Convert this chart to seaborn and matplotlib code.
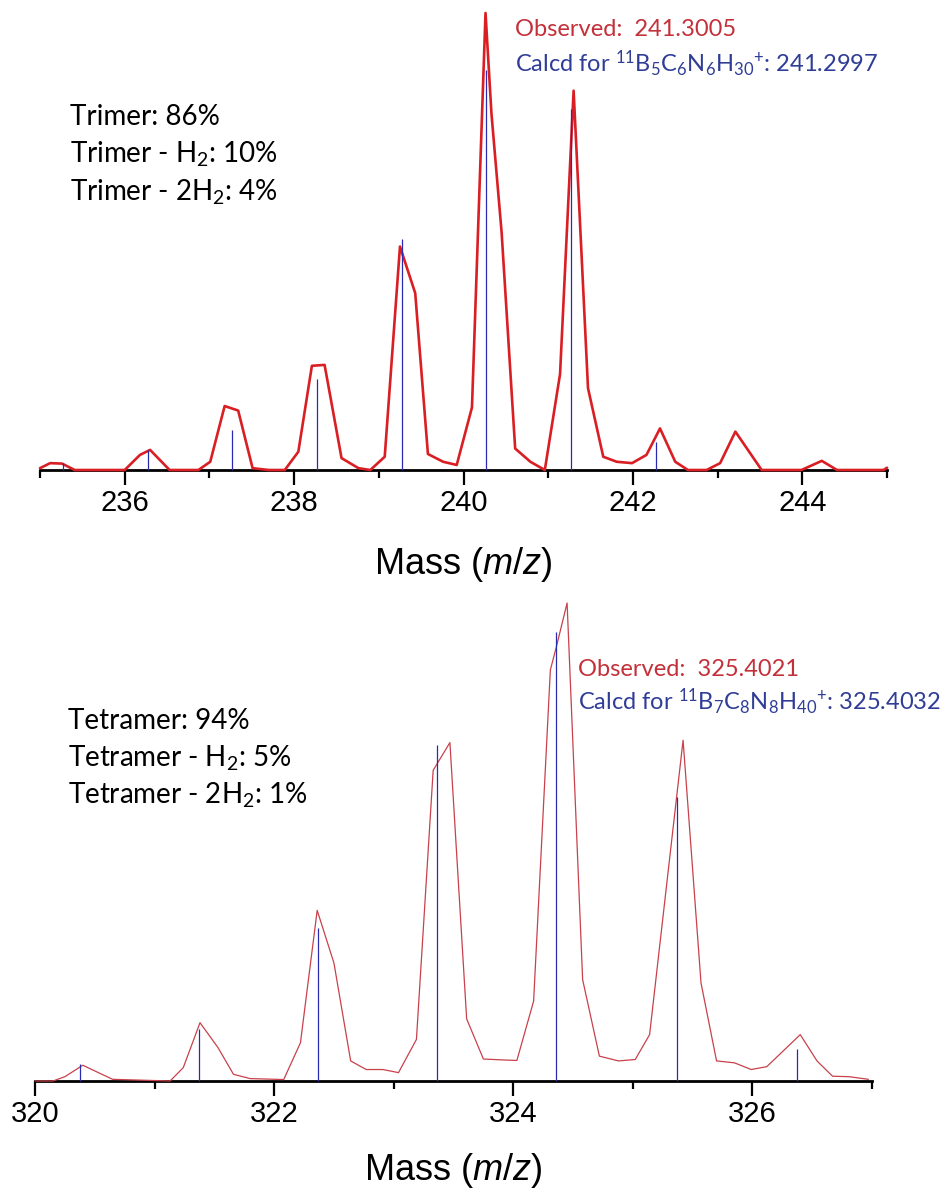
import numpy as np
import pandas as pd
import matplotlib
matplotlib.use("Agg")
import matplotlib.pyplot as plt
import seaborn as sns

# ---------------- data ----------------
top_obs_mass = [235.00, 235.12, 235.26, 235.41, 236.00, 236.18, 236.30, 236.53, 236.87, 237.01,
                237.18, 237.34, 237.51, 237.70, 237.89, 238.05, 238.21, 238.36, 238.56, 238.76,
                238.90, 239.07, 239.25, 239.43, 239.58, 239.76, 239.92, 240.10, 240.26, 240.33,
                240.45, 240.61, 240.79, 240.96, 241.14, 241.30, 241.47, 241.65, 241.81, 241.99,
                242.16, 242.32, 242.50, 242.65, 242.87, 243.03, 243.21, 243.52, 243.99, 244.23,
                244.41, 244.96, 245.00]
top_obs_int = [0.4, 1.5, 1.4, 0.0, 0.0, 3.3, 4.4, 0.0, 0.0, 1.8,
               14.0, 13.0, 0.4, 0.0, 0.0, 4.0, 22.8, 23.0, 2.6, 0.4,
               0.0, 2.9, 48.9, 38.7, 3.5, 1.8, 1.1, 13.7, 100.0, 78.0,
               52.0, 4.7, 1.8, 0.0, 21.0, 83.0, 17.9, 2.9, 1.8, 1.5,
               3.3, 9.1, 1.8, 0.0, 0.0, 1.5, 8.4, 0.0, 0.0, 2.0,
               0.0, 0.0, 0.5]
top_calc_mass = [235.27, 236.27, 237.27, 238.27, 239.27, 240.27, 241.27, 242.27]
top_calc_int = [1.5, 4.4, 8.7, 20.0, 50.5, 87.5, 79.0, 6.2]

bot_obs_mass = [320.00, 320.15, 320.25, 320.40, 320.53, 320.65, 321.13, 321.24, 321.38, 321.53,
                321.66, 321.80, 321.95, 322.08, 322.22, 322.36, 322.50, 322.64, 322.77, 322.91,
                323.04, 323.19, 323.33, 323.47, 323.61, 323.75, 323.92, 324.03, 324.17, 324.31,
                324.36, 324.45, 324.58, 324.72, 324.88, 325.02, 325.14, 325.42, 325.57, 325.70,
                325.85, 325.99, 326.12, 326.40, 326.54, 326.67, 326.81, 326.97]
bot_obs_int = [0.0, 0.0, 0.9, 3.3, 1.75, 0.35, 0.0, 2.8, 12.2, 7.0,
               1.4, 0.5, 0.4, 0.3, 8.0, 35.7, 24.7, 4.2, 2.4, 2.4,
               1.75, 8.7, 65.0, 70.8, 13.0, 4.6, 4.4, 4.3, 16.7, 86.0,
               90.8, 100.0, 21.2, 5.2, 4.2, 4.5, 9.7, 71.3, 20.5, 4.2,
               3.8, 2.4, 3.0, 9.7, 4.2, 1.0, 0.9, 0.35]
bot_calc_mass = [320.38, 321.37, 322.37, 323.36, 324.36, 325.37, 326.37]
bot_calc_int = [3.5, 10.9, 32.0, 70.3, 94.0, 59.5, 6.6]

top_major_ticks = [236, 238, 240, 242, 244]
bot_major_ticks = [320, 322, 324, 326]

top_notes = ["Trimer: 86%", "Trimer - H$_2$: 10%", "Trimer - 2H$_2$: 4%"]
bot_notes = ["Tetramer: 94%", "Tetramer - H$_2$: 5%", "Tetramer - 2H$_2$: 1%"]
top_obs_text = "Observed:  241.3005"
top_calc_text = "Calcd for $^{11}B_5C_6N_6H_{30}{}^{+}$: 241.2997"
bot_obs_text = "Observed:  325.4021"
bot_calc_text = "Calcd for $^{11}B_7C_8N_8H_{40}{}^{+}$: 325.4032"
xlabel_text = "Mass ($\\mathit{m/z}$)"

# ---------------- style ----------------
sns.set_style("white")
plt.rcParams['font.family'] = ['Lato', 'DejaVu Sans']
plt.rcParams['mathtext.default'] = 'regular'
plt.rcParams['mathtext.fontset'] = 'custom'
plt.rcParams['mathtext.rm'] = 'Liberation Sans'
plt.rcParams['mathtext.it'] = 'Liberation Sans:italic'

W, H = 942, 1188
fig = plt.figure(figsize=(W / 100, H / 100), dpi=100)
fig.patch.set_facecolor("white")

RED_TOP = "#d91f24"
RED_BOT = "#c8414b"
BLUE = "#2b2bb0"
TXT_RED = "#c4303a"
TXT_BLUE = "#2f3d96"

def px_rect(x0, x1, ybase, ytop):
    return [x0 / W, 1 - ybase / H, (x1 - x0) / W, (ybase - ytop) / H]

ax1 = fig.add_axes(px_rect(40, 887, 470, 13))
ax2 = fig.add_axes(px_rect(35, 872, 1081, 603))

def setup(ax, xmin, xmax, majors, labelpad):
    ax.set_facecolor("none")
    ax.set_xlim(xmin, xmax)
    ax.set_ylim(0, 100)
    for s in ["left", "top", "right"]:
        ax.spines[s].set_visible(False)
    ax.spines["bottom"].set_linewidth(2.0)
    ax.spines["bottom"].set_color("black")
    ax.spines["bottom"].set_zorder(1)
    ax.set_yticks([])
    ax.set_xticks(majors)
    ax.set_xticks(np.arange(xmin, xmax + 0.5, 1), minor=True)
    ax.tick_params(axis="x", which="major", direction="out", length=10.5, width=1.6,
                   color="black", pad=3, labelsize=21, labelcolor="black", bottom=True)
    ax.tick_params(axis="x", which="minor", direction="out", length=5.5, width=1.6,
                   color="black", bottom=True)
    for lab in ax.get_xticklabels():
        lab.set_fontfamily("Liberation Sans")
    ax.set_xlabel(xlabel_text, fontsize=26, family="Liberation Sans",
                  color="black", labelpad=labelpad)

setup(ax1, 235, 245, top_major_ticks, 20.5)
setup(ax2, 320, 327, bot_major_ticks, 16.5)

df_top = pd.DataFrame({"mass": top_obs_mass, "intensity": top_obs_int})
df_bot = pd.DataFrame({"mass": bot_obs_mass, "intensity": bot_obs_int})

sns.lineplot(data=df_top, x="mass", y="intensity", sort=False, estimator=None,
             color=RED_TOP, lw=1.9, ax=ax1, zorder=2)
ax1.vlines(top_calc_mass, 0, top_calc_int, color=BLUE, lw=0.9, zorder=3)

sns.lineplot(data=df_bot, x="mass", y="intensity", sort=False, estimator=None,
             color=RED_BOT, lw=0.9, ax=ax2, zorder=2)
ax2.vlines(bot_calc_mass, 0, bot_calc_int, color=BLUE, lw=0.9, zorder=3)

for ax in (ax1, ax2):
    ax.set_ylabel("")
    for ln in ax.lines:
        ln.set_clip_on(False)
    for c in ax.collections:
        c.set_clip_on(False)

def ftext(x, y, s, **kw):
    fig.text(x / W, 1 - y / H, s, ha="left", va="center", **kw)

for i, s in enumerate(top_notes):
    ftext(70, 117 + 37.5 * i, s, fontsize=20, color="black")
for i, s in enumerate(bot_notes):
    ftext(68, 721 + 37 * i, s, fontsize=20, color="black")

ftext(515, 30, top_obs_text, fontsize=17, color=TXT_RED)
ftext(515, 64, top_calc_text, fontsize=17, color=TXT_BLUE)
ftext(578, 669, bot_obs_text, fontsize=17, color=TXT_RED)
ftext(578, 702, bot_calc_text, fontsize=17, color=TXT_BLUE)

fig.savefig("out.png", dpi=100, facecolor="white")
